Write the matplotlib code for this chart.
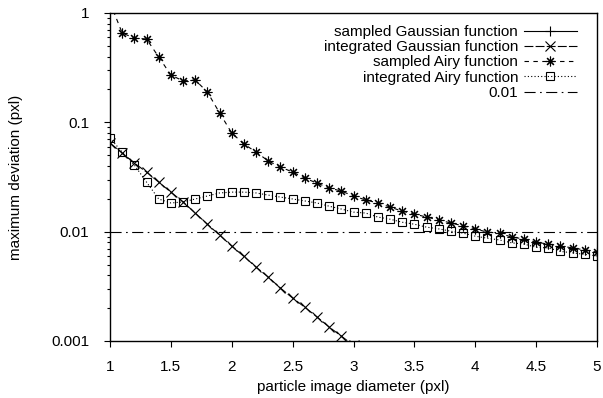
import matplotlib
matplotlib.use("Agg")
import matplotlib.pyplot as plt
from matplotlib.ticker import FixedLocator, NullFormatter

plt.rcParams["font.family"] = ["Liberation Sans", "DejaVu Sans"]
plt.rcParams["font.size"] = 11

# particle image diameter (pxl)
diam = [1.0, 1.1, 1.2, 1.3, 1.4, 1.5, 1.6, 1.7, 1.8, 1.9,
        2.0, 2.1, 2.2, 2.3, 2.4, 2.5, 2.6, 2.7, 2.8, 2.9,
        3.0, 3.1, 3.2, 3.3, 3.4, 3.5, 3.6, 3.7, 3.8, 3.9,
        4.0, 4.1, 4.2, 4.3, 4.4, 4.5, 4.6, 4.7, 4.8, 4.9, 5.0]

# sampled Gaussian: every value lies below 0.001, nothing visible in the plot
sampled_gauss_x = []
sampled_gauss = []

# integrated Gaussian, visible from 1.0 up to 3.0
int_gauss = [0.0647, 0.0524, 0.0424, 0.0351, 0.0284, 0.0230, 0.0187, 0.0148, 0.0117, 0.0093,
             0.00738, 0.00593, 0.00474, 0.00384, 0.00305, 0.00247, 0.00204, 0.00166, 0.00134, 0.00111,
             0.00091]

sampled_airy = [1.25, 0.656, 0.59, 0.578, 0.396, 0.271, 0.239, 0.244, 0.189, 0.122,
                0.0798, 0.0633, 0.0535, 0.0443, 0.039, 0.0351, 0.0309, 0.0278, 0.0251, 0.0235,
                0.0212, 0.0195, 0.0183, 0.0168, 0.0154, 0.0145, 0.0136, 0.0128, 0.012, 0.0113,
                0.0106, 0.0099, 0.0097, 0.0089, 0.0086, 0.0080, 0.0077, 0.0074, 0.0071, 0.0068,
                0.0065]

int_airy = [0.0718, 0.0535, 0.0407, 0.0284, 0.0199, 0.0183, 0.0187, 0.0199, 0.0212, 0.0226,
            0.0230, 0.0230, 0.0226, 0.0216, 0.0207, 0.0199, 0.0191, 0.0183, 0.0171, 0.0161,
            0.0151, 0.0148, 0.0136, 0.0130, 0.0122, 0.0117, 0.0110, 0.0106, 0.0101, 0.0097,
            0.0091, 0.0087, 0.0084, 0.0079, 0.0077, 0.0072, 0.0071, 0.0066, 0.0064, 0.0062,
            0.0060]

threshold = 0.01

x_ticks = [1, 1.5, 2, 2.5, 3, 3.5, 4, 4.5, 5]
x_labels = ["1", "1.5", "2", "2.5", "3", "3.5", "4", "4.5", "5"]
y_ticks = [0.001, 0.01, 0.1, 1]
y_labels = ["0.001", "0.01", "0.1", "1"]

fig = plt.figure(figsize=(6.03, 3.98), dpi=100)
ax = fig.add_axes([110 / 603, 1 - 341 / 398, 487 / 603, 328 / 398])

lw = 0.8
star = (8, 2, 0)

ax.plot(sampled_gauss_x, sampled_gauss, color="black", lw=lw, ls="-",
        marker="+", ms=7, mew=lw, label="sampled Gaussian function")
ax.plot(diam[:len(int_gauss)], int_gauss, color="black", lw=lw, ls=(0, (8, 2)),
        marker="x", ms=6.5, mew=lw, label="integrated Gaussian function")
ax.plot(diam, sampled_airy, color="black", lw=lw, ls=(0, (4, 4)),
        marker=star, ms=7, mew=lw, label="sampled Airy function")
ax.plot(diam, int_airy, color="black", lw=lw, ls=(0, (1, 2)),
        marker="s", ms=5.5, mew=lw, mfc="none", label="integrated Airy function")
ax.axhline(threshold, color="black", lw=lw, ls=(0, (10, 4, 1.5, 4)), label="0.01")

ax.set_yscale("log")
ax.set_xlim(1, 5)
ax.set_ylim(0.001, 1)

ax.xaxis.set_major_locator(FixedLocator(x_ticks))
ax.set_xticklabels(x_labels)
ax.yaxis.set_major_locator(FixedLocator(y_ticks))
ax.set_yticklabels(y_labels)
ax.yaxis.set_minor_locator(FixedLocator(
    [m * 10.0 ** e for e in (-3, -2, -1) for m in range(2, 10)]))
ax.yaxis.set_minor_formatter(NullFormatter())

ax.tick_params(axis="both", which="major", direction="out", length=4, width=0.8,
               top=False, right=False, labelsize=11)
ax.tick_params(axis="x", which="major", pad=10)
ax.tick_params(axis="y", which="major", pad=11)
ax.tick_params(axis="y", which="minor", direction="out", length=2.5, width=0.8)
for s in ax.spines.values():
    s.set_linewidth(1.0)

ax.set_xlabel("particle image diameter (pxl)", fontsize=11, labelpad=4)
ax.set_ylabel("maximum deviation (pxl)", fontsize=11, labelpad=20)

ax.legend(loc="upper right", bbox_to_anchor=(577 / 603, 1 - 25 / 398),
          bbox_transform=fig.transFigure, frameon=False, markerfirst=False,
          handlelength=3.5, handletextpad=0.35, labelspacing=0.08,
          borderpad=0, borderaxespad=0, fontsize=11)

fig.savefig("out.png", dpi=100)
